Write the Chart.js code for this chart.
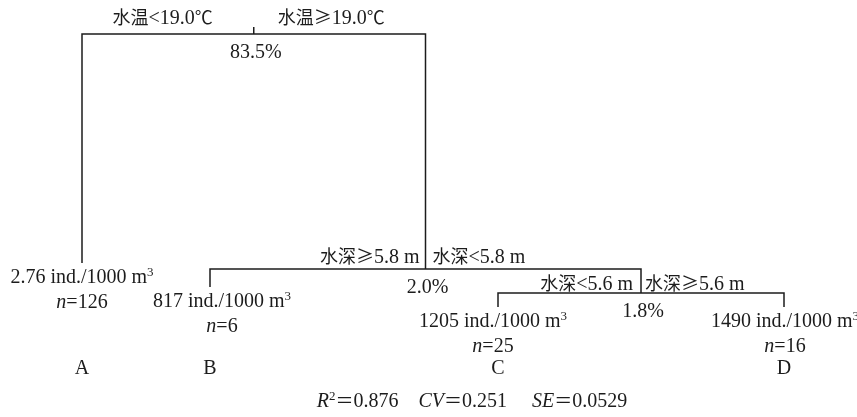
<!DOCTYPE html>
<html>
  <head>
    <title>
      Regression tree
    </title>
    <script src="https://cdn.jsdelivr.net/npm/chart.js"></script>
    <style>
      html, body { margin: 0; padding: 0; background: #fff; }
      #wrap { width: 857px; height: 417px; }
    </style>
  </head>
  <body>
    <div id="wrap">
      <canvas id="treeChart"></canvas>
    </div>
    <script>
      'use strict'
      // terminal nodes, left to right
      const leafNames = ['A', 'B', 'C', 'D'];
      const leafMeans = ['2.76', '817', '1205', '1490'];   // ind./1000 m3
      const leafCounts = [126, 6, 25, 16];
      const leafX = [82, 210, 498, 784];                   // place on the tree axis
      const leafHeight = [263, 287, 307, 307];             // node deviance height

      // splits, root first
      const splitRules = [
        ['水温<19.0℃', '水温≥19.0℃'],
        ['水深≥5.8 m', '水深<5.8 m'],
        ['水深<5.6 m', '水深≥5.6 m'],
      ];
      const splitExplained = ['83.5%', '2.0%', '1.8%'];
      const splitHeight = [34, 269, 293];
      // children: leaf name or index of another split
      const splitChildren = [['A', 1], ['B', 2], ['C', 'D']];

      const statsText = [
        { t: 'R', it: true }, { t: '2', sup: true }, { t: '＝0.876' }, { t: '    ' },
        { t: 'CV', it: true }, { t: '＝0.251' }, { t: '     ' },
        { t: 'SE', it: true }, { t: '＝0.0529' },
      ];

      // label layout (not data)
      const splitLabelGap = [[41, 24, 10], [6, 7, 6], [8, 4, 3]];
      const leafNudge = [0, 12, -5, 1];
      const inkColor = '#1c1c1c';

      function childX(c) {
        if (typeof c === 'string') return leafX[leafNames.indexOf(c)];
        return splitX(c);
      }
      function childTop(c) {
        if (typeof c === 'string') return leafHeight[leafNames.indexOf(c)];
        return splitHeight[c];
      }
      function splitX(i) {
        return (childX(splitChildren[i][0]) + childX(splitChildren[i][1])) / 2;
      }

      const datasets = splitChildren.map((kids, i) => {
        const xl = childX(kids[0]);
        const xr = childX(kids[1]);
        const h = splitHeight[i];
        return {
          data: [
            { x: xl, y: childTop(kids[0]) },
            { x: xl, y: h },
            { x: xr, y: h },
            { x: xr, y: childTop(kids[1]) },
          ],
        };
      });
      // stub above the root
      datasets.push({ data: [{ x: splitX(0), y: splitHeight[0] - 7 }, { x: splitX(0), y: splitHeight[0] }] });
      datasets.forEach(ds => {
        ds.showLine = true;
        ds.borderColor = inkColor;
        ds.borderWidth = 1.5;
        ds.pointRadius = 0;
        ds.tension = 0;
        ds.borderJoinStyle = 'miter';
        ds.borderCapStyle = 'butt';
      });

      const cjkRe = /[\u2103\u2265\u3000-\u9fff\uff00-\uffef]/;

      function splitRuns(parts) {
        const out = [];
        parts.forEach(p => {
          let cur = null;
          for (const ch of p.t) {
            const cjk = cjkRe.test(ch);
            if (!cur || cur.cjk !== cjk) {
              cur = { t: '', cjk: cjk, it: p.it, sup: p.sup };
              out.push(cur);
            }
            cur.t += ch;
          }
        });
        return out;
      }

      function fontFor(r) {
        if (r.cjk) return '18px "Noto Sans CJK SC"';
        if (r.sup) return '13px "Liberation Serif"';
        return (r.it ? 'italic ' : '') + '20px "Liberation Serif"';
      }

      // draw mixed text; y is the visual middle of the line
      function drawRich(ctx, parts, x, y, align) {
        if (typeof parts === 'string') parts = [{ t: parts }];
        const runs = splitRuns(parts);
        let total = 0;
        runs.forEach(r => {
          ctx.font = fontFor(r);
          r.w = ctx.measureText(r.t).width;
          total += r.w;
        });
        let cx = x;
        if (align === 'center') cx = x - total / 2;
        if (align === 'right') cx = x - total;
        const base = y + 7;
        runs.forEach(r => {
          ctx.font = fontFor(r);
          ctx.fillText(r.t, cx, r.sup ? base - 7 : base);
          cx += r.w;
        });
      }

      const treeText = {
        id: 'treeText',
        afterDatasetsDraw(chart) {
          const ctx = chart.ctx;
          const sx = chart.scales.x;
          const sy = chart.scales.y;
          ctx.save();
          ctx.fillStyle = inkColor;
          ctx.textBaseline = 'alphabetic';
          ctx.textAlign = 'left';

          splitRules.forEach((rule, i) => {
            const px = sx.getPixelForValue(splitX(i));
            const py = sy.getPixelForValue(splitHeight[i]);
            const g = splitLabelGap[i];
            drawRich(ctx, rule[0], px - g[0], py - g[2] - 7, 'right');
            drawRich(ctx, rule[1], px + g[1], py - g[2] - 7, 'left');
            drawRich(ctx, splitExplained[i], px + 2, py + 17, 'center');
          });

          leafNames.forEach((name, i) => {
            const px = sx.getPixelForValue(leafX[i]);
            const py = sy.getPixelForValue(leafHeight[i]);
            const lx = px + leafNudge[i];
            drawRich(ctx, [{ t: leafMeans[i] + ' ind./1000 m' }, { t: '3', sup: true }], lx, py + 13, 'center');
            drawRich(ctx, [{ t: 'n', it: true }, { t: '=' + leafCounts[i] }], lx, py + 38, 'center');
            drawRich(ctx, name, px, sy.getPixelForValue(367), 'center');
          });

          drawRich(ctx, statsText, sx.getPixelForValue(472), sy.getPixelForValue(400), 'center');
          ctx.restore();
        }
      };

      new Chart(document.getElementById('treeChart'), {
        type: 'scatter',
        data: { datasets: datasets },
        options: {
          responsive: true,
          maintainAspectRatio: false,
          animation: false,
          layout: { padding: 0 },
          plugins: {
            legend: { display: false },
            tooltip: { enabled: false },
          },
          scales: {
            x: { type: 'linear', min: 0, max: 857, display: false },
            y: { type: 'linear', min: 0, max: 417, reverse: true, display: false },
          },
        },
        plugins: [treeText],
      });
    </script>
  </body>
</html>
